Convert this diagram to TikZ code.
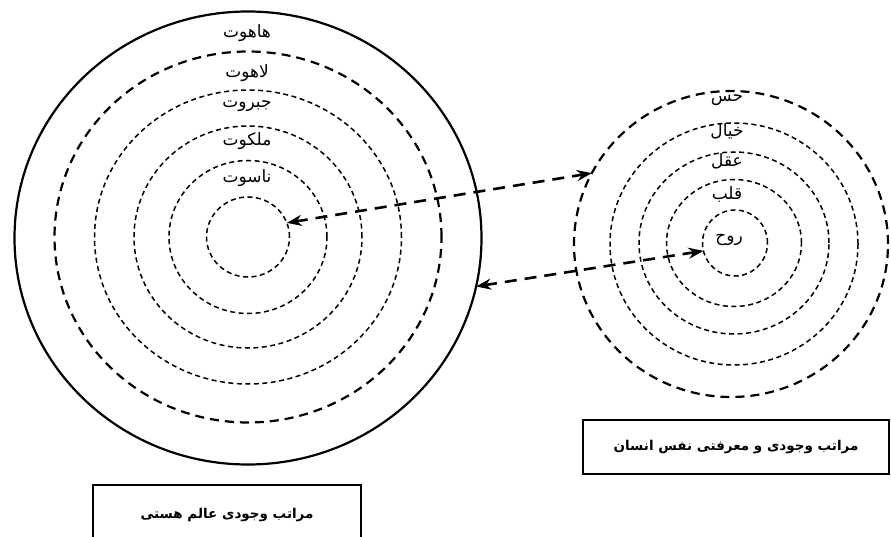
\documentclass[tikz,border=0pt]{standalone}
\usepackage{fontspec}
\newfontfamily\arabicfont[Script=Arabic]{DejaVu Sans}
\TeXXeTstate=1
\usetikzlibrary{arrows.meta,shapes.geometric}

\begin{document}
\begin{tikzpicture}[x=1pt, y=-1pt, >={Stealth[length=15pt,width=11pt]},
  ring/.style={ellipse, draw, inner sep=0pt, outer sep=0pt},
  heavyring/.style={ring, line width=2.2pt, dash pattern=on 9pt off 6pt},
  lightring/.style={ring, line width=1.5pt, dash pattern=on 5pt off 3.5pt},
  rank/.style={font=\arabicfont\fontsize{17}{19}\selectfont},
  caption/.style={draw, line width=2pt, inner sep=0pt,
                  font=\arabicfont\bfseries\fontsize{13.5}{15}\selectfont},
  link/.style={<->, line width=2.6pt, dash pattern=on 12pt off 8pt}]
  \clip (0,0) rectangle (891,537);

  % World: levels of being
  \node[ring, line width=2.2pt, minimum width=467pt, minimum height=453pt] (Lo) at (248,238) {};
  \node[heavyring, minimum width=387pt, minimum height=371pt] (L1) at (248,237) {};
  \node[lightring, minimum width=307pt, minimum height=294pt] (L2) at (248,237) {};
  \node[lightring, minimum width=228pt, minimum height=222pt] (L3) at (248,237) {};
  \node[lightring, minimum width=158pt, minimum height=153pt] (L4) at (248,237) {};
  \node[lightring, minimum width=83pt, minimum height=80pt] (L5) at (248,237) {};

  \node[rank] (hahut) at (247,33) {\beginR هاهوت\endR};
  \node[rank] (lahut) at (247,73) {\beginR لاهوت\endR};
  \node[rank] (jabarut) at (247,106) {\beginR جبروت\endR};
  \node[rank] (malakut) at (247,141) {\beginR ملکوت\endR};
  \node[rank] (nasut) at (247,178) {\beginR ناسوت\endR};

  % Soul: levels of being and knowing
  \node[heavyring, minimum width=314pt, minimum height=306pt] (R1) at (731,244) {};
  \node[lightring, minimum width=248pt, minimum height=242pt] (R2) at (734,244) {};
  \node[lightring, minimum width=190pt, minimum height=182pt] (R3) at (734,243) {};
  \node[lightring, minimum width=135pt, minimum height=127pt] (R4) at (734,243) {};
  \node[lightring, minimum width=65pt, minimum height=66pt] (R5) at (735,243) {};

  \node[rank] (hess) at (727,100) {\beginR حس\endR};
  \node[rank] (khiyal) at (727,131) {\beginR خیال\endR};
  \node[rank] (aql) at (727,161) {\beginR عقل\endR};
  \node[rank] (qalb) at (727,194) {\beginR قلب\endR};
  \node[rank] (ruh) at (729,240) {\beginR روح\endR};

  % Correspondences
  \draw[link] (L5.20) -- (R1.153);
  \draw[link] (Lo.-12) -- (R5.-166);

  % Captions
  \node[caption, minimum width=306pt, minimum height=54pt] (capR) at (736,447)
    {\beginR مراتب وجودی و معرفتی نفس انسان\endR};
  \node[caption, minimum width=268pt, minimum height=62pt, text depth=0pt] (capL) at (227,516)
    {\raisebox{6pt}{\beginR مراتب وجودی عالم هستی\endR}};
\end{tikzpicture}
\end{document}
